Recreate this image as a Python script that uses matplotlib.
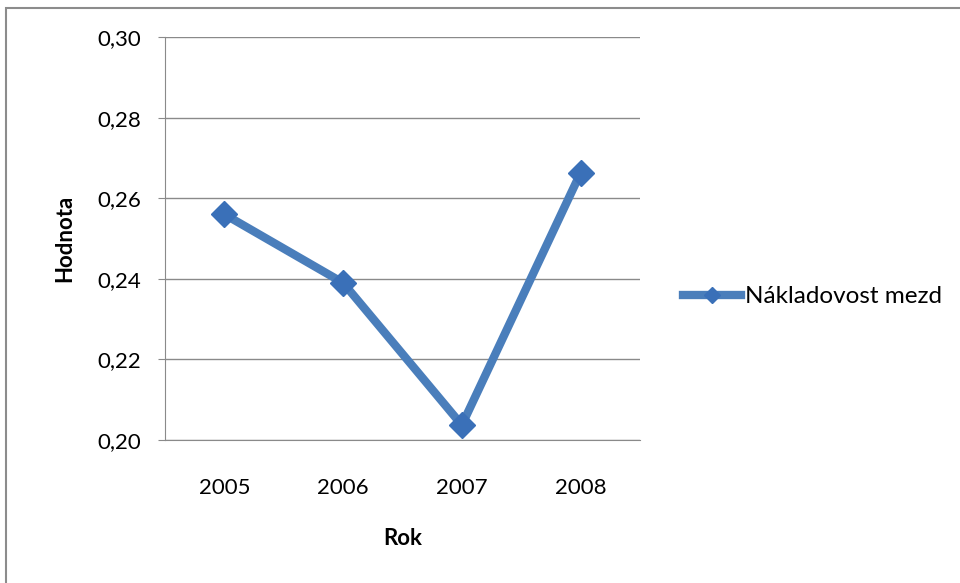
import matplotlib.pyplot as plt
from matplotlib.patches import Rectangle
from matplotlib.ticker import FuncFormatter

years = ["2005", "2006", "2007", "2008"]
values = [0.256, 0.239, 0.2037, 0.2663]
series_name = "Nákladovost mezd"

plt.rcParams['font.family'] = ['Lato', 'DejaVu Sans']

fig = plt.figure(figsize=(9.6, 5.83), dpi=100)
# outer chart border (cropped on right and bottom)
fig.patches.append(Rectangle((6 / 960, -0.1), 1.2, (583 - 8) / 583 + 0.1,
                             transform=fig.transFigure, fill=False,
                             edgecolor='#8c8c8c', linewidth=1.5))

ax = fig.add_axes([165 / 960, (583 - 440) / 583, 475 / 960, 403 / 583])
x = list(range(len(years)))
ax.plot(x, values, color='#4a7ebb', linewidth=6, marker='D', markersize=13,
        markerfacecolor='#3a70b8', markeredgecolor='#3a70b8',
        solid_joinstyle='miter', label=series_name, zorder=3)

ax.set_xlim(-0.5, 3.5)
ax.set_ylim(0.20, 0.30)
ax.set_yticks([0.20, 0.22, 0.24, 0.26, 0.28, 0.30])
ax.yaxis.set_major_formatter(FuncFormatter(lambda v, p: f"{v:.2f}".replace('.', ',')))
ax.set_xticks(x)
ax.set_xticklabels(years)
ax.grid(True, axis='y', color='#8a8a8a', linewidth=1)
ax.set_axisbelow(True)

for s in ['top', 'right']:
    ax.spines[s].set_visible(False)
ax.spines['left'].set_color('#8a8a8a')
ax.spines['bottom'].set_color('#8a8a8a')
ax.tick_params(axis='y', length=5, color='#8a8a8a', labelsize=16, pad=12)
ax.tick_params(axis='x', length=0, labelsize=16, pad=27)

ax.set_xlabel("Rok", fontsize=16, fontweight='bold', labelpad=22)
ax.set_ylabel("Hodnota", fontsize=16, fontweight='bold', labelpad=16)

ax.legend(loc='center left', bbox_to_anchor=(1.09, 0.355), frameon=False,
          fontsize=17.5, handlelength=2.4, handletextpad=0.15, borderaxespad=0,
          borderpad=0, markerscale=0.65)

fig.savefig("out.png", dpi=100)
